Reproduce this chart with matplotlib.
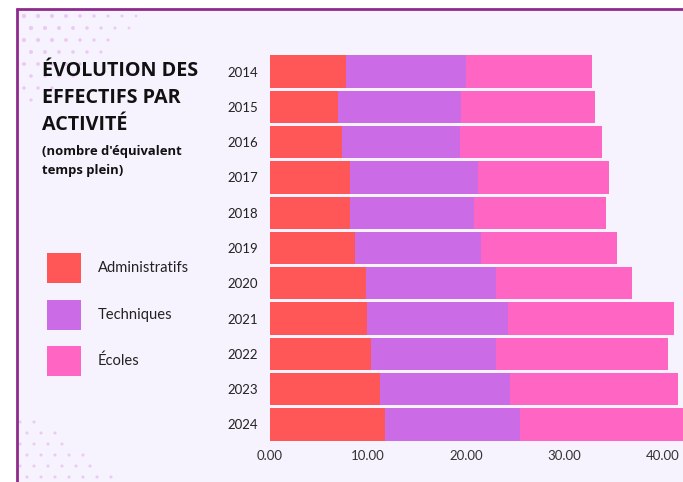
import matplotlib
matplotlib.use("Agg")
import matplotlib.pyplot as plt
import matplotlib.patches as mpatches
import numpy as np

# données (ETP)
annees = ["2014", "2015", "2016", "2017", "2018", "2019",
          "2020", "2021", "2022", "2023", "2024"]
administratifs = [7.8, 7.0, 7.4, 8.2, 8.2, 8.7, 9.8, 9.9, 10.3, 11.3, 11.8]
techniques = [12.2, 12.5, 12.0, 13.0, 12.6, 12.8, 13.3, 14.4, 12.8, 13.2, 13.7]
ecoles = [12.8, 13.6, 14.5, 13.4, 13.5, 13.9, 13.8, 16.9, 17.5, 17.1, 18.0]

categories = ["Administratifs", "Techniques", "Écoles"]
couleurs = ["#FF5757", "#CB6CE6", "#FF66C4"]
xticks = [0, 10, 20, 30, 40]

fond = "#F7F3FE"
violet = "#8E2A8C"

plt.rcParams['font.family'] = ['Lato', 'DejaVu Sans']

W, H = 683, 482
fig = plt.figure(figsize=(6.83, 4.82), dpi=100)
fig.patch.set_facecolor("white")

# calque de fond en pixels (cadre + points décoratifs)
deco = fig.add_axes([0, 0, 1, 1], zorder=0)
deco.set_xlim(0, W)
deco.set_ylim(H, 0)
deco.axis("off")
deco.add_patch(mpatches.Rectangle((17, 9), W, H, facecolor=fond, edgecolor="none"))
deco.plot([17, 17], [8, H], color=violet, lw=2.0, solid_capstyle="butt")
deco.plot([16, W], [9, 9], color=violet, lw=2.0, solid_capstyle="butt")

# points en haut à gauche, qui s'estompent vers la droite / le bas
pts = []
for r in range(8):
    for c in range(9 - r):
        x0 = 24 + c * 14 + (r % 2) * 7
        y0 = 16 + r * 12
        d = np.hypot(x0 - 20, y0 - 12) / 130.0
        if d < 1:
            pts.append((x0, y0, 1 - d))
pts = np.array(pts)
deco.scatter(pts[:, 0], pts[:, 1], s=8 * pts[:, 2] + 3, color="#E9C4F2",
             alpha=0.85, edgecolors="none")
# points en bas à gauche
pts = []
for r in range(6):
    for c in range(r + 2):
        pts.append((20 + c * 14 + (r % 2) * 7, 422 + r * 11))
pts = np.array(pts)
deco.scatter(pts[:, 0], pts[:, 1], s=5, color="#EBCBF4", edgecolors="none")

ax = fig.add_axes([269.5 / W, 1 - 442 / H, 1 - 269.5 / W, (442 - 54) / H], zorder=2)
ax.set_facecolor("none")

y = np.arange(len(annees))
gauche = np.zeros(len(annees))
for vals, nom, col in zip([administratifs, techniques, ecoles], categories, couleurs):
    ax.barh(y, vals, left=gauche, height=0.92, color=col, label=nom, zorder=2)
    gauche += np.array(vals)

ax.set_ylim(len(annees) - 0.5, -0.5)
ax.set_xlim(0, (W - 269.5) / 9.82)
ax.set_yticks(y)
ax.set_yticklabels(annees, fontsize=9.5, color="#222222")
ax.set_xticks(xticks)
ax.set_xticklabels(["%.2f" % v for v in xticks], fontsize=9.5, color="#333333")
ax.tick_params(axis="both", length=0)
ax.tick_params(axis="y", pad=8)
ax.tick_params(axis="x", pad=6)
for s in ax.spines.values():
    s.set_visible(False)

# titre
fig.text(42 / W, 1 - 98 / H, "ÉVOLUTION DES\nEFFECTIFS PAR\nACTIVITÉ", fontsize=14.2,
         fontweight="bold", color="#111111", va="center", ha="left", linespacing=1.5,
         family=['Open Sans', 'DejaVu Sans'], zorder=3)
fig.text(42 / W, 1 - 161 / H, "(nombre d'équivalent\ntemps plein)", fontsize=9.4,
         fontweight="bold", color="#111111", va="center", ha="left", linespacing=1.55,
         family=['Open Sans', 'DejaVu Sans'], zorder=3)

# légende manuelle
for i, (nom, col) in enumerate(zip(categories, couleurs)):
    yc = 268 + i * 46.5
    deco.add_patch(mpatches.Rectangle((47, yc - 15), 34, 30, facecolor=col, edgecolor="none"))
    deco.text(98, yc, nom, fontsize=10.6, color="#222222", va="center", ha="left")

fig.savefig("out.png", dpi=100, facecolor=fig.get_facecolor())
